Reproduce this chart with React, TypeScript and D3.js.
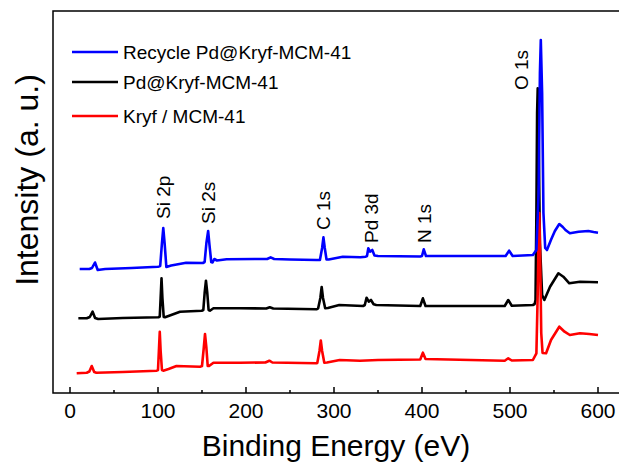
import React from "react";
import * as d3 from "d3";

// Binding energy (eV) / intensity (a.u.) pairs
const recycleEnergy = [11, 22, 25, 28.4, 31.5, 40, 70, 100, 102.5, 104.5, 106, 107.5, 109.5, 115, 132, 151, 153, 155, 157, 158.5, 160.5, 162, 164, 167, 178, 210, 224, 228, 232, 250, 280, 284, 286.5, 288, 289.5, 291.5, 294, 310, 330, 336, 337.5, 339, 341, 343.5, 346, 350, 398, 400, 402, 404.5, 420, 480, 495, 499, 503, 526, 530, 532.5, 534, 535, 536.5, 538, 540, 542, 546.5, 551, 556, 560, 563, 568, 578, 589, 595, 600];
const recycleIntensity = [124, 124, 125, 130.5, 123, 124, 125, 126.3, 127, 150, 165, 150, 126, 127.5, 130.3, 130, 131, 150, 162, 148, 131, 130.5, 134, 132.5, 133.7, 134, 134, 135.7, 134, 133.5, 133, 133, 145, 155.7, 145, 133.5, 133.5, 136.3, 135.7, 136.3, 137, 144.7, 141.3, 143, 137.5, 137, 136.5, 137, 143.7, 137, 137, 137, 137, 142.3, 137, 138, 143, 200, 320, 353, 300, 180, 145, 143, 153, 162, 169, 166, 163, 159.7, 161.3, 162, 161, 160.3];

const pdEnergy = [9.5, 19, 22.5, 25.7, 28.5, 32, 60, 100.4, 102, 103, 104, 105, 106.5, 108, 115, 125, 149.7, 151.5, 153, 154.5, 156, 157.5, 159, 163, 193, 223, 227, 231, 280, 282, 284.5, 286, 287.5, 290, 293, 306, 333, 335, 337, 339.5, 342, 345, 348, 398, 401, 404, 494, 498, 502, 526, 528, 529, 530, 530.8, 531.5, 532.5, 534, 536.5, 539, 545.5, 555, 560.6, 567.4, 579.5, 590, 600];
const pdIntensity = [74.7, 74.7, 76, 81.3, 75, 74, 75, 75.7, 76.5, 95, 114.7, 95, 76, 75.7, 78, 81.3, 82.3, 83, 100, 112.3, 100, 83, 82.3, 84.7, 84.7, 84.5, 85.7, 84.5, 83.7, 84.7, 95, 106, 95, 84.7, 85, 88, 87, 88, 95.3, 91.3, 93, 88.7, 88, 87, 94.7, 87, 87, 93, 87.3, 88, 89, 93, 180, 280, 304.7, 260, 150, 98, 93, 106.3, 119.7, 116.3, 109.7, 111.3, 111, 110.7];

const kryfEnergy = [7.6, 19, 22, 24.7, 27.5, 30, 60, 98.5, 100, 101, 102, 103, 104.5, 106, 112, 121, 147.7, 150, 152, 153.4, 155, 156.5, 158, 163, 193, 222, 226.5, 230, 280, 281, 283.5, 285, 286.5, 289, 292, 306.5, 329.5, 350, 398, 401, 404, 494, 498, 502, 526, 530, 531.5, 532.5, 533.3, 534.2, 535.5, 537, 541, 546.6, 556, 562, 568, 579.5, 590, 600];
const kryfIntensity = [19.7, 20.3, 21.5, 27, 21, 20.3, 21, 22.3, 23, 42, 61.3, 42, 23, 22.3, 24, 27, 26.3, 27, 45, 59, 45, 27, 27, 30.3, 30.3, 30.5, 32.3, 30.5, 29.7, 30, 42, 52.5, 42, 30.3, 30.5, 33, 32.3, 33, 33.5, 40.3, 34, 32.3, 34.7, 32.5, 33, 39.7, 100, 160, 180, 140, 60, 40, 39.7, 53, 66.3, 61.3, 58, 59.7, 59, 58];

const seriesNames = ["Recycle Pd@Kryf-MCM-41", "Pd@Kryf-MCM-41", "Kryf / MCM-41"];
const seriesColors = ["#0000ff", "#000000", "#ff0000"];

const xTicks = [0, 100, 200, 300, 400, 500, 600];
const xMinorTicks = [50, 150, 250, 350, 450, 550];

const peakLabels = ["Si 2p", "Si 2s", "C 1s", "Pd 3d", "N 1s", "O 1s"];
const peakLabelEnergy = [106, 157, 288, 342, 402, 512];
const peakLabelIntensity = [174, 169, 163, 150, 150, 303];

const FONT = "'Liberation Sans', Arial, sans-serif";

export default function App() {
  const W = 619, H = 464;
  const left = 53, top = 11, bottom = 393, right = 624;
  const x = d3.scaleLinear().domain([0, 600]).range([70, 598]);
  const y = d3.scaleLinear().domain([0, 382]).range([bottom, top]);

  const mk = (e: number[], v: number[]) => e.map((d, i) => [d, v[i]] as [number, number]);
  const series = [
    { name: seriesNames[1], color: seriesColors[1], data: mk(pdEnergy, pdIntensity) },
    { name: seriesNames[2], color: seriesColors[2], data: mk(kryfEnergy, kryfIntensity) },
    { name: seriesNames[0], color: seriesColors[0], data: mk(recycleEnergy, recycleIntensity) },
  ];
  const line = d3.line<[number, number]>().x(d => x(d[0])).y(d => y(d[1]));

  const legendY = [52, 82, 116];

  return (
    <svg width={W} height={H} style={{ position: "absolute", left: 0, top: 0, background: "#fff" }} fontFamily={FONT}>
      <rect x={0} y={0} width={W} height={H} fill="#fff" />
      {series.map(s => (
        <path key={s.name} d={line(s.data) || ""} fill="none" stroke={s.color} strokeWidth={2.6} strokeLinejoin="round" />
      ))}
      <rect x={left} y={top} width={right - left} height={bottom - top} fill="none" stroke="#000" strokeWidth={1.5} />
      {xTicks.map(t => (
        <g key={t}>
          <line x1={x(t)} x2={x(t)} y1={bottom} y2={bottom - 6} stroke="#000" strokeWidth={1.5} />
          <text x={x(t)} y={418} textAnchor="middle" fontSize={21} fill="#000">{t}</text>
        </g>
      ))}
      {xMinorTicks.map(t => (
        <line key={t} x1={x(t)} x2={x(t)} y1={bottom} y2={bottom - 3} stroke="#000" strokeWidth={1.5} />
      ))}
      <text x={336} y={456} textAnchor="middle" fontSize={30} fill="#000">Binding Energy (eV)</text>
      <text transform={`translate(38,180) rotate(-90)`} textAnchor="middle" fontSize={32} fill="#000">Intensity (a. u.)</text>
      {peakLabels.map((p, i) => (
        <text key={p} transform={`translate(${x(peakLabelEnergy[i]) + 7},${y(peakLabelIntensity[i])}) rotate(-90)`} fontSize={19} fill="#000">{p}</text>
      ))}
      {seriesNames.map((n, i) => (
        <g key={n}>
          <line x1={72} x2={118} y1={legendY[i]} y2={legendY[i]} stroke={seriesColors[i]} strokeWidth={2.6} />
          <text x={123} y={legendY[i] + 7} fontSize={19} fill="#000">{n}</text>
        </g>
      ))}
    </svg>
  );
}
